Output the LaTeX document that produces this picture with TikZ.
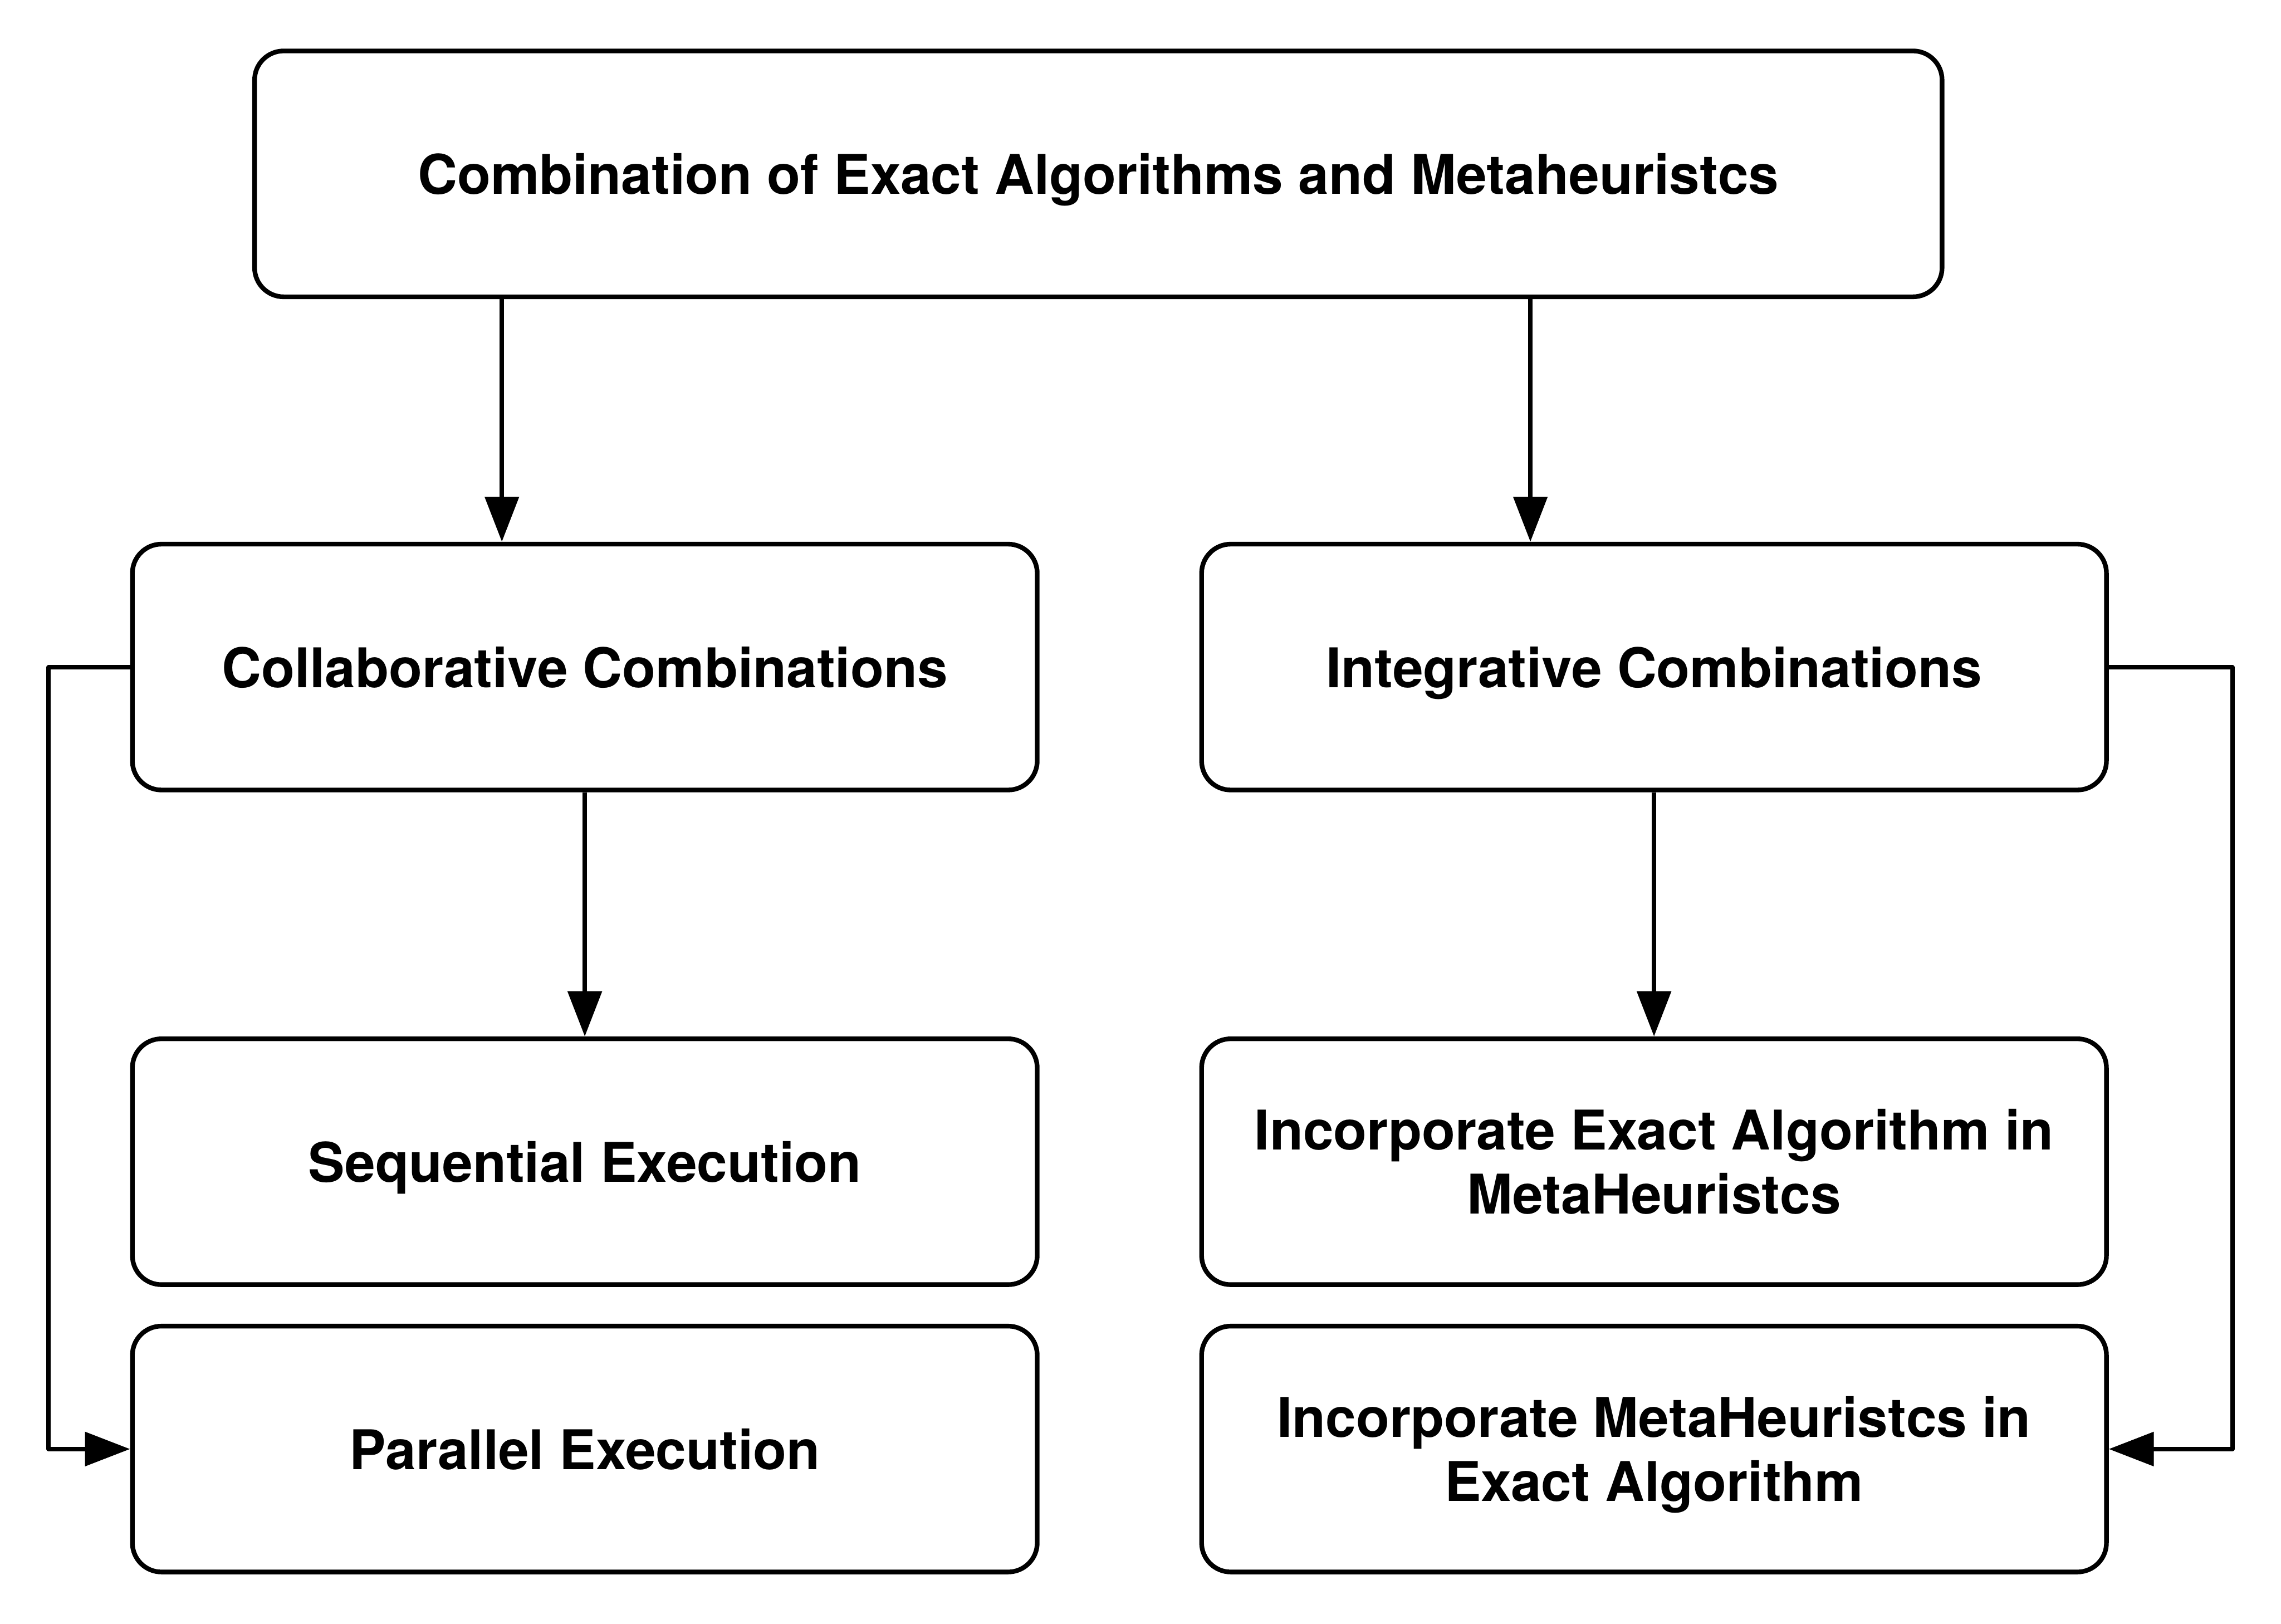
\documentclass[tikz,border=0pt]{standalone}
\usepackage{fontspec}
\setmainfont{TeX Gyre Heros}
\usetikzlibrary{arrows.meta}

\tikzset{every picture/.style={line width=1.6pt}}
\tikzset{
  box/.style={draw, rounded corners=10pt, minimum width=311pt, minimum height=84.5pt,
    align=center, inner sep=0pt, font=\bfseries\fontsize{18.8}{22}\selectfont,
    text height=16.75pt, text depth=2.85pt},
  twoline/.style={text height=38.75pt},
  arr/.style={-{Triangle[length=15.5pt,width=11.5pt]}, line join=round}
}

\begin{document}
\begin{tikzpicture}[x=0.5pt,y=0.5pt,yscale=-1,xscale=1]
	\useasboundingbox (0,0) rectangle (1568,1116);
	
	%Rounded Rect [top]
	\node [box, minimum width=580pt] (top) at (755,119.5) {Combination of Exact Algorithms and Metaheuristcs};
	
	%Rounded Rect [left column]
	\node [box] (coll) at (402,458.5) {Collaborative Combinations};
	\node [box] (seq) at (402,798.5) {Sequential Execution};
	\node [box] (par) at (402,996) {Parallel Execution};
	
	%Rounded Rect [right column]
	\node [box] (integ) at (1137,458.5) {Integrative Combinations};
	\node [box, twoline] (incexact) at (1137,798.5) {Incorporate Exact Algorithm in\\MetaHeuristcs};
	\node [box, twoline] (incmeta) at (1137,996) {Incorporate MetaHeuristcs in\\Exact Algorithm};
	
	% where the two upper arrows leave the top box
	\coordinate (lft) at (345,0);
	\coordinate (rgt) at (1052,0);
	
	%Straight Lines [top to second row]
	\draw [arr] (top.south -| lft) -- (coll.north -| lft);
	\draw [arr] (top.south -| rgt) -- (integ.north -| rgt);
	
	%Straight Lines [second row to third row]
	\draw [arr] (coll.south) -- (seq.north);
	\draw [arr] (integ.south) -- (incexact.north);
	
	%Elbow Lines [side loops]
	\draw [arr] (coll.west) -- ++(-28pt,0) |- (par.west);
	\draw [arr] (integ.east) -- ++(42.5pt,0) |- (incmeta.east);
	
\end{tikzpicture}
\end{document}
